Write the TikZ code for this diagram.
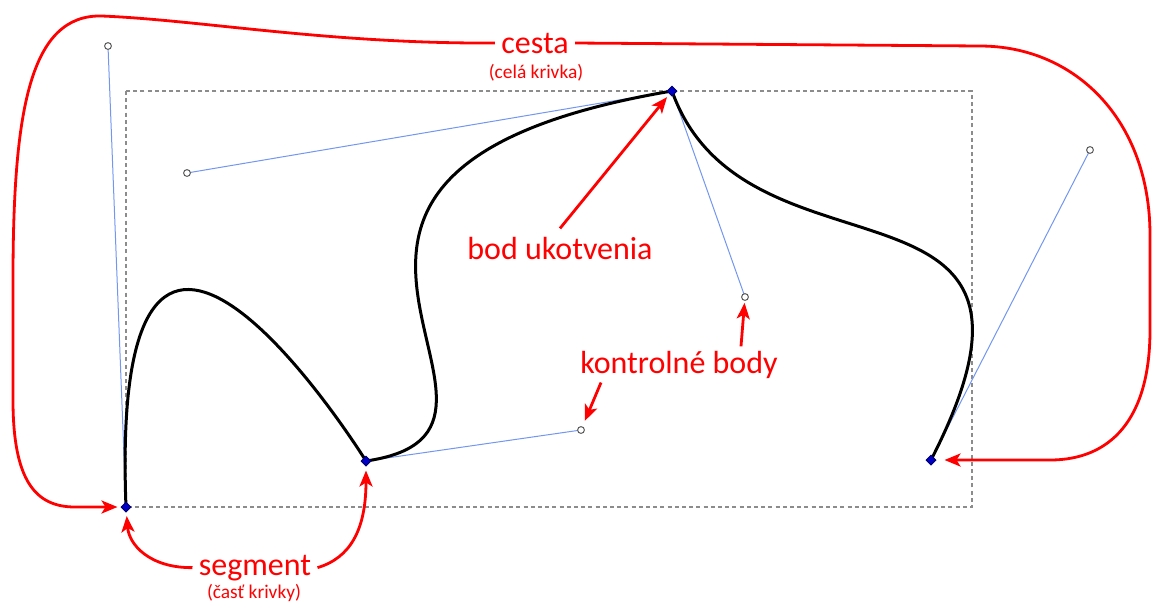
\documentclass[tikz,border=0pt]{standalone}
\usepackage{fontspec}
\setmainfont{Carlito}
\usetikzlibrary{arrows.meta,shapes.geometric,calc}
\definecolor{pathred}{RGB}{255,0,0}
\definecolor{handleblue}{RGB}{115,150,240}
\definecolor{anchorblue}{RGB}{0,0,200}
\begin{document}
\begin{tikzpicture}[x=0.5pt,y=-0.5pt,
  anchorpt/.style={diamond,draw=anchorblue!55!black,fill=anchorblue,inner sep=0pt,minimum size=5pt,line width=0.5pt},
  ctrlpt/.style={circle,draw=black!65,fill=white,inner sep=0pt,minimum size=3.4pt,line width=0.5pt},
  handle/.style={handleblue,line width=0.5pt},
  bezier/.style={black,line width=1.5pt},
  bbox/.style={black!45,dash pattern=on 2pt off 1.6pt,line width=0.6pt},
  callout/.style={pathred,line width=1.4pt,-{Stealth[length=8pt,width=6.5pt,inset=2pt]}},
  biglabel/.style={text=pathred,font=\fontsize{16}{18}\selectfont,inner sep=0pt,anchor=base},
  smalllabel/.style={text=pathred,font=\fontsize{9.7}{11}\selectfont,inner sep=0pt,anchor=base},
]
\useasboundingbox (0,0) rectangle (1152,601);
\clip (0,0) rectangle (1152,601);

% anchor points and their handles
\coordinate (p1) at (126,507);
\coordinate (p2) at (366,461);
\coordinate (p3) at (672,91);
\coordinate (p4) at (931,460);
\coordinate (q1) at (108,46);
\coordinate (q2) at (187,173);
\coordinate (q3) at (745,297);
\coordinate (q4) at (1090,150);
\coordinate (q5) at (581,430);

% bounding box of the path
\draw[bbox] (p1 |- p3) rectangle (972,507);

% handle lines
\draw[handle] (p1) -- (q1);
\draw[handle] (p2) -- (q5);
\draw[handle] (p3) -- (q2);
\draw[handle] (p3) -- (q3);
\draw[handle] (p4) -- (q4);

% the path itself
\draw[bezier] (p1) .. controls (q1) and (p2) .. (p2)
              .. controls (q5) and (q2) .. (p3)
              .. controls (q3) and (q4) .. (p4);

% markers
\node[anchorpt] (a1) at (p1) {};
\node[anchorpt] (a2) at (p2) {};
\node[anchorpt] (a3) at (p3) {};
\node[anchorpt] (a4) at (p4) {};
\node[ctrlpt] (c1) at (q1) {};
\node[ctrlpt] (c2) at (q2) {};
\node[ctrlpt] (c3) at (q3) {};
\node[ctrlpt] (c4) at (q4) {};
\node[ctrlpt] (c5) at (q5) {};

% labels
\node[biglabel,inner xsep=3pt] (cesta) at (535,53) {cesta};
\node[smalllabel] (celakrivka) at (536,78) {(celá krivka)};
\node[biglabel] (bod) at (560,259) {bod ukotvenia};
\node[biglabel] (kb) at (679,373) {kontrolné body};
\node[biglabel,inner xsep=3pt] (segment) at (255,575) {segment};
\node[smalllabel] (castkrivky) at (254,598) {(časť krivky)};

% callouts
\draw[callout,shorten >=1.5pt] (cesta.west)
  .. controls (330,44) and (200,20) .. (102,16)
  .. controls (30,14) and (13,110) .. (13,280)
  -- (13,400) .. controls (13,480) and (35,507) .. (75,507) -- (a1);
\draw[callout,shorten >=4pt] (cesta.east) -- (980,46)
  .. controls (1075,46) and (1150,120) .. (1150,235)
  -- (1150,330) .. controls (1150,420) and (1110,460) .. (1050,460) -- (a4);
\draw[callout,shorten >=2pt] ([yshift=4pt]bod.north) -- (a3);
\draw[callout,shorten >=3pt] ([xshift=-39pt,yshift=-2pt]kb.south) -- (c5);
\draw[callout,shorten >=1pt] ([xshift=31pt,yshift=2pt]kb.north) -- (c3);
\draw[callout,shorten >=2pt] (segment.west) .. controls (150,568) and (129,545) .. (a1);
\draw[callout,shorten >=2pt] (segment.east) .. controls (350,558) and (366,530) .. (a2);
\end{tikzpicture}
\end{document}
